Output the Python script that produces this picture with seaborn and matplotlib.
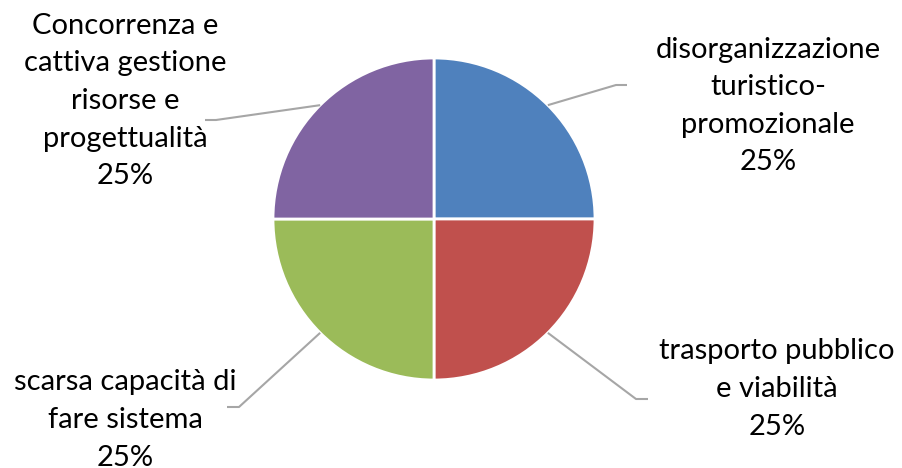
import numpy as np
import matplotlib.pyplot as plt
import seaborn as sns

# data
categorie = ['disorganizzazione\nturistico-\npromozionale',
             'trasporto pubblico\ne viabilità',
             'scarsa capacità di\nfare sistema',
             'Concorrenza e\ncattiva gestione\nrisorse e\nprogettualità']
valori = [25, 25, 25, 25]
colori = ['#4F81BD', '#C0504D', '#9BBB59', '#8064A2']

sns.set_style('white')
plt.rcParams['font.family'] = ['Lato', 'DejaVu Sans']

W, H = 902, 468
fig = plt.figure(figsize=(W / 100, H / 100), dpi=100)
ax = fig.add_axes([0, 0, 1, 1])

cx, cy, r = 434, H - 219, 161
wedges, _ = ax.pie(valori, colors=colori, startangle=90, counterclock=False,
                   center=(cx, cy), radius=r,
                   wedgeprops=dict(edgecolor='white', linewidth=2))

# elbow points of leader lines and label centres (pixel coords, y from top)
gomiti = [((616, 85), (627, 85)), ((636, 399), (648, 399)),
          ((239, 407), (227, 407)), ((216, 120), (205, 120))]
etichette = [(768, 106), (777, 389), (125, 420), (125, 101)]

tot = sum(valori)
for w, v, lab, (g1, g2), (tx, ty) in zip(wedges, valori, categorie, gomiti, etichette):
    ang = np.deg2rad((w.theta1 + w.theta2) / 2)
    x0, y0 = cx + r * np.cos(ang), cy + r * np.sin(ang)
    ax.plot([x0, g1[0], g2[0]], [y0, H - g1[1], H - g2[1]],
            color='#A6A6A6', lw=1.5, solid_capstyle='butt')
    ax.text(tx, H - ty, f'{lab}\n{v / tot:.0%}', ha='center', va='center',
            fontsize=21, linespacing=1.55, color='black')

ax.set_xlim(0, W)
ax.set_ylim(0, H)
ax.set_aspect('auto')
ax.axis('off')
fig.savefig('out.png', dpi=100)
